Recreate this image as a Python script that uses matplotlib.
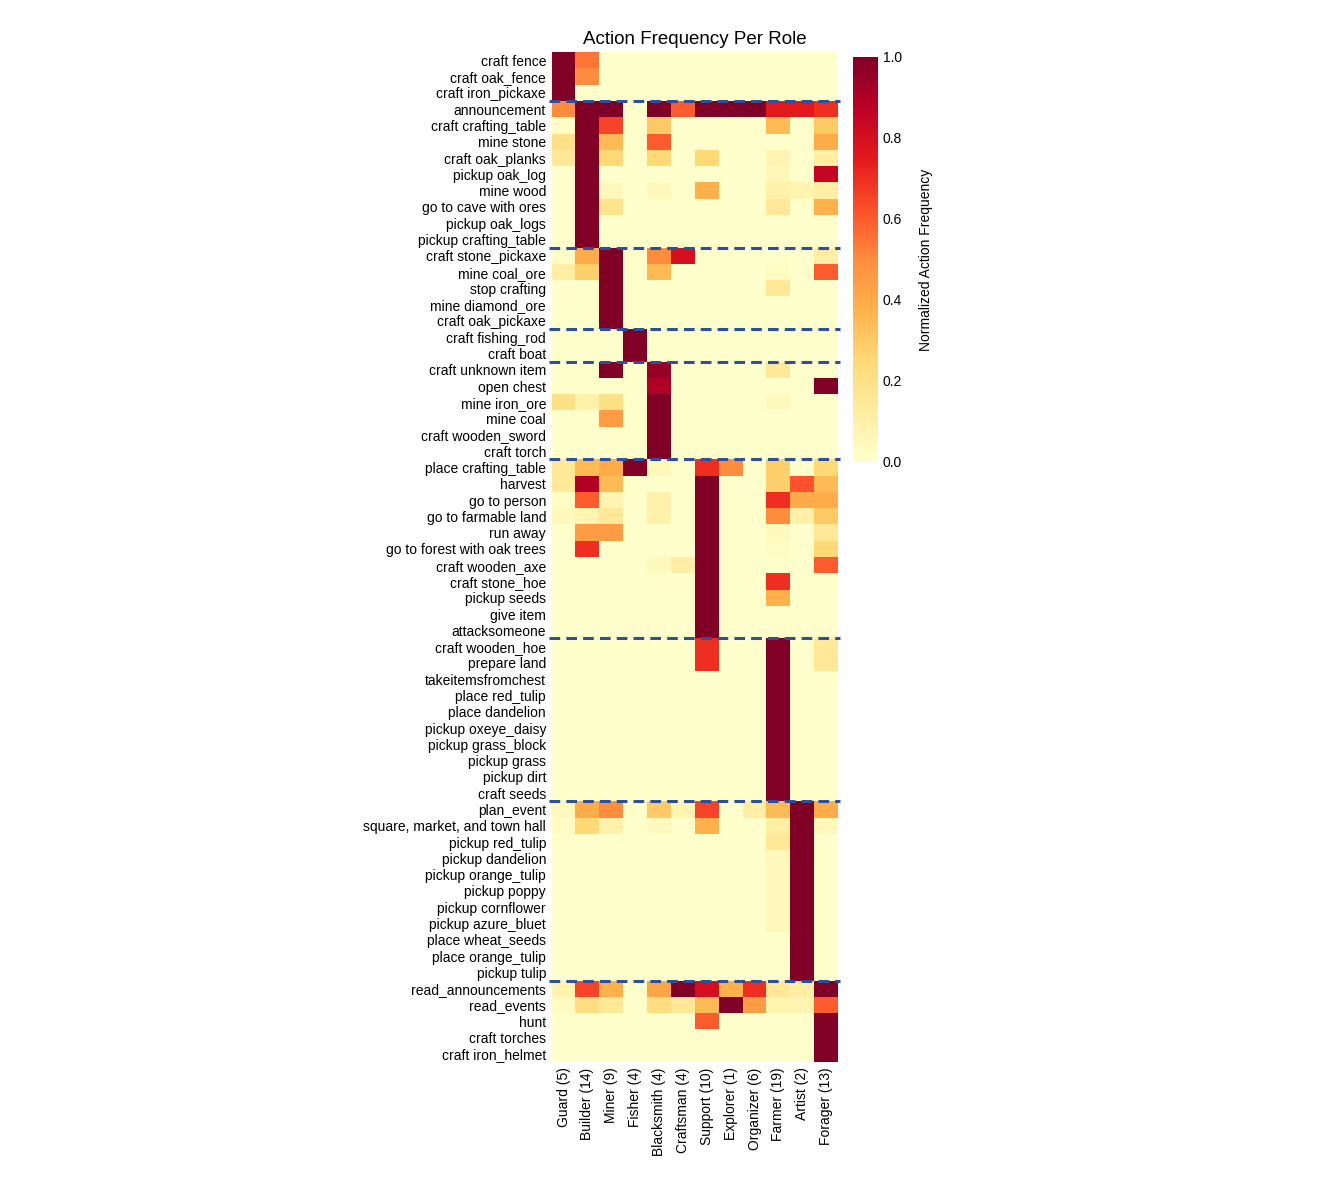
import numpy as np
import matplotlib
matplotlib.use("Agg")
import matplotlib.pyplot as plt

plt.rcParams["font.family"] = "Liberation Sans"

roles = ["Guard (5)", "Builder (14)", "Miner (9)", "Fisher (4)", "Blacksmith (4)",
         "Craftsman (4)", "Support (10)", "Explorer (1)", "Organizer (6)",
         "Farmer (19)", "Artist (2)", "Forager (13)"]

actions = [
    "craft fence", "craft oak_fence", "craft iron_pickaxe",
    "announcement", "craft crafting_table", "mine stone", "craft oak_planks",
    "pickup oak_log", "mine wood", "go to cave with ores", "pickup oak_logs",
    "pickup crafting_table",
    "craft stone_pickaxe", "mine coal_ore", "stop crafting", "mine diamond_ore",
    "craft oak_pickaxe",
    "craft fishing_rod", "craft boat",
    "craft unknown item", "open chest", "mine iron_ore", "mine coal",
    "craft wooden_sword", "craft torch",
    "place crafting_table", "harvest", "go to person", "go to farmable land",
    "run away", "go to forest with oak trees", "craft wooden_axe",
    "craft stone_hoe", "pickup seeds", "give item", "attacksomeone",
    "craft wooden_hoe", "prepare land", "takeitemsfromchest", "place red_tulip",
    "place dandelion", "pickup oxeye_daisy", "pickup grass_block",
    "pickup grass", "pickup dirt", "craft seeds",
    "plan_event", "square, market, and town hall", "pickup red_tulip",
    "pickup dandelion", "pickup orange_tulip", "pickup poppy",
    "pickup cornflower", "pickup azure_bluet", "place wheat_seeds",
    "place orange_tulip", "pickup tulip",
    "read_announcements", "read_events", "hunt", "craft torches",
    "craft iron_helmet",
]

# rows after which a group separator is drawn
group_ends = [3, 12, 17, 19, 25, 36, 46, 57]

# non-zero cells: action -> {role index: value}
values = {
    "craft fence": {0: 1, 1: 0.55},
    "craft oak_fence": {0: 1, 1: 0.5},
    "craft iron_pickaxe": {0: 1},
    "announcement": {0: 0.5, 1: 1, 2: 1, 4: 1, 5: 0.6, 6: 1, 7: 1, 8: 1, 9: 0.75, 10: 0.75, 11: 0.7},
    "craft crafting_table": {0: 0.02, 1: 1, 2: 0.65, 4: 0.3, 9: 0.35, 11: 0.3},
    "mine stone": {0: 0.2, 1: 1, 2: 0.35, 4: 0.6, 11: 0.4},
    "craft oak_planks": {0: 0.15, 1: 1, 2: 0.25, 4: 0.25, 6: 0.25, 9: 0.08, 11: 0.12},
    "pickup oak_log": {1: 1, 9: 0.06, 11: 0.85},
    "mine wood": {1: 1, 2: 0.05, 4: 0.05, 6: 0.38, 9: 0.1, 10: 0.08, 11: 0.12},
    "go to cave with ores": {1: 1, 2: 0.18, 9: 0.15, 11: 0.38},
    "pickup oak_logs": {1: 1},
    "pickup crafting_table": {1: 1},
    "craft stone_pickaxe": {0: 0.02, 1: 0.4, 2: 1, 4: 0.5, 5: 0.8, 11: 0.12},
    "mine coal_ore": {0: 0.12, 1: 0.28, 2: 1, 4: 0.35, 9: 0.03, 11: 0.6},
    "stop crafting": {2: 1, 9: 0.15},
    "mine diamond_ore": {2: 1},
    "craft oak_pickaxe": {2: 1},
    "craft fishing_rod": {3: 1},
    "craft boat": {3: 1},
    "craft unknown item": {2: 1, 4: 0.95, 9: 0.15},
    "open chest": {4: 0.9, 11: 1},
    "mine iron_ore": {0: 0.2, 1: 0.1, 2: 0.2, 4: 1, 9: 0.04},
    "mine coal": {2: 0.45, 4: 1},
    "craft wooden_sword": {4: 1},
    "craft torch": {4: 1},
    "place crafting_table": {0: 0.15, 1: 0.35, 2: 0.4, 3: 1, 4: 0.05, 6: 0.7, 7: 0.5, 9: 0.28, 11: 0.25},
    "harvest": {0: 0.15, 1: 0.9, 2: 0.35, 6: 1, 9: 0.28, 10: 0.62, 11: 0.35},
    "go to person": {0: 0.02, 1: 0.6, 2: 0.08, 4: 0.1, 6: 1, 9: 0.7, 10: 0.4, 11: 0.4},
    "go to farmable land": {0: 0.05, 1: 0.08, 2: 0.15, 4: 0.1, 6: 1, 9: 0.5, 10: 0.1, 11: 0.3},
    "run away": {1: 0.45, 2: 0.45, 6: 1, 9: 0.04, 11: 0.15},
    "go to forest with oak trees": {1: 0.7, 6: 1, 9: 0.03, 11: 0.25},
    "craft wooden_axe": {4: 0.05, 5: 0.12, 6: 1, 11: 0.6},
    "craft stone_hoe": {6: 1, 9: 0.7},
    "pickup seeds": {6: 1, 9: 0.38},
    "give item": {6: 1},
    "attacksomeone": {6: 1},
    "craft wooden_hoe": {6: 0.7, 9: 1, 11: 0.15},
    "prepare land": {6: 0.7, 9: 1, 11: 0.15},
    "takeitemsfromchest": {9: 1},
    "place red_tulip": {9: 1},
    "place dandelion": {9: 1},
    "pickup oxeye_daisy": {9: 1},
    "pickup grass_block": {9: 1},
    "pickup grass": {9: 1},
    "pickup dirt": {9: 1},
    "craft seeds": {9: 1},
    "plan_event": {0: 0.05, 1: 0.4, 2: 0.5, 4: 0.3, 5: 0.08, 6: 0.65, 8: 0.12, 9: 0.35, 10: 1, 11: 0.4},
    "square, market, and town hall": {0: 0.03, 1: 0.25, 2: 0.1, 4: 0.04, 6: 0.38, 9: 0.12, 10: 1, 11: 0.05},
    "pickup red_tulip": {9: 0.15, 10: 1},
    "pickup dandelion": {9: 0.05, 10: 1},
    "pickup orange_tulip": {9: 0.05, 10: 1},
    "pickup poppy": {9: 0.05, 10: 1},
    "pickup cornflower": {9: 0.05, 10: 1},
    "pickup azure_bluet": {9: 0.05, 10: 1},
    "place wheat_seeds": {10: 1},
    "place orange_tulip": {10: 1},
    "pickup tulip": {10: 1},
    "read_announcements": {0: 0.08, 1: 0.65, 2: 0.38, 4: 0.42, 5: 1, 6: 0.8, 7: 0.38, 8: 0.7, 9: 0.15, 10: 0.12, 11: 1},
    "read_events": {0: 0.03, 1: 0.22, 2: 0.15, 4: 0.22, 5: 0.15, 6: 0.35, 7: 1, 8: 0.45, 9: 0.08, 10: 0.08, 11: 0.6},
    "hunt": {6: 0.6, 11: 1},
    "craft torches": {11: 1},
    "craft iron_helmet": {11: 1},
}

data = np.zeros((len(actions), len(roles)))
for i, a in enumerate(actions):
    for j, v in values[a].items():
        data[i, j] = v

fig = plt.figure(figsize=(13.42, 11.86), dpi=100)
ax = fig.add_axes([0.411, 0.1046, 0.2135, 0.8514])
cax = fig.add_axes([0.6356, 0.6105, 0.0186, 0.3415])

mesh = ax.pcolormesh(data, cmap="YlOrRd", vmin=0, vmax=1)
ax.set_xlim(0, len(roles))
ax.set_ylim(len(actions), 0)
ax.set_xticks(np.arange(len(roles)) + 0.5)
ax.set_xticklabels(roles, rotation=90, fontsize=10)
ax.set_yticks(np.arange(len(actions)) + 0.5)
ax.set_yticklabels(actions, fontsize=10)
ax.tick_params(length=0, pad=4)
for s in ax.spines.values():
    s.set_visible(False)
ax.set_title("Action Frequency Per Role", fontsize=13.5, pad=6)

for r in group_ends:
    ax.plot([-0.1, len(roles) + 0.1], [r, r], color="#2d4f9e", lw=2.2,
            ls=(0, (3.5, 2)), clip_on=False)

cb = fig.colorbar(mesh, cax=cax)
cb.outline.set_visible(False)
cb.ax.tick_params(length=0, labelsize=10)
cb.set_label("Normalized Action Frequency", fontsize=10, labelpad=12)

fig.savefig("out.png", dpi=100)
